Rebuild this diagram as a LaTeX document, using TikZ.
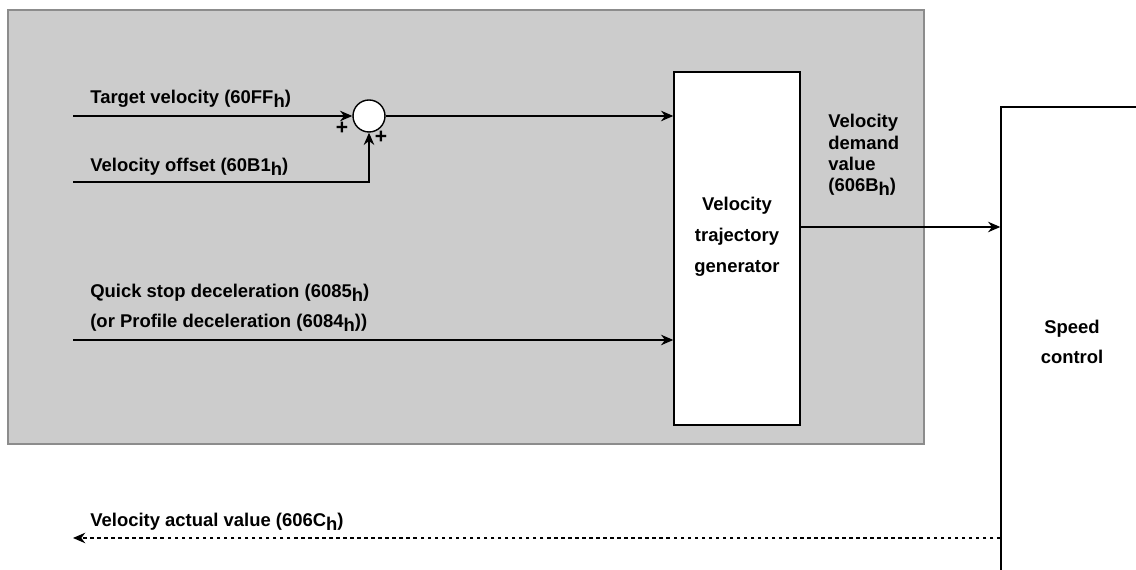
\documentclass[tikz,border=0pt]{standalone}
\usepackage{fontspec}
\setmainfont{Liberation Sans}
\usepackage{tikz}
\usetikzlibrary{arrows.meta,positioning}
\definecolor{panelgray}{HTML}{CCCCCC}
\definecolor{paneledge}{HTML}{8C8C8C}
\newcommand{\hsub}{\raisebox{-0.4ex}{h}}
\tikzset{
    panel-area/.style = {draw=paneledge, fill=panelgray, line width=0.6pt},
    block-box/.style = {draw=black, fill=white, line width=0.8pt, align=center, inner sep=0pt},
    sum-node/.style = {draw=black, fill=white, circle, line width=0.8pt, minimum size=32*0.02cm, inner sep=0pt},
    signal/.style = {draw=black, line width=0.8pt, -{Stealth[length=7pt,width=6pt]}},
    feedback/.style = {signal, dash pattern=on 2pt off 2pt},
    signal-label/.style = {anchor=base west, inner sep=0pt, align=left},
    sign-label/.style = {inner sep=0pt, font=\bfseries\fontsize{12}{12}\selectfont},
}

\begin{document}
\begin{tikzpicture}[x=0.02cm, y=0.02cm, font=\bfseries\fontsize{10.5}{12.2}\selectfont]
\useasboundingbox (0,0) rectangle (1136,570);
\clip (0,0) rectangle (1136,570);
\draw[panel-area] (8,126) rectangle (924,560);
% blocks
\node[block-box, minimum width=126*0.02cm, minimum height=353*0.02cm] (gen) at (737,321.5) {};
\node[align=center, font=\bfseries\fontsize{10.5}{17.6}\selectfont] (gen-text) at (737,333) {Velocity\\trajectory\\generator};
\node[block-box, minimum width=142*0.02cm, minimum height=470*0.02cm] (speed) at (1072,228) {};
\node[align=center, font=\bfseries\fontsize{10.5}{17}\selectfont] (speed-text) at (1072,228) {Speed\\control};
\node[sum-node] (sum) at (369,454) {};
% inputs
\coordinate (in-target) at (73,454);
\coordinate (in-offset) at (73,388);
\coordinate (in-quick) at (73,230);
\coordinate (dem) at (800,343);
\coordinate (out-actual) at (73,32);
\draw[signal] (in-target) -- (sum.west);
\draw[signal] (in-offset) -| (sum.south);
\draw[signal] (sum.east) -- (sum.east -| gen.west);
\draw[signal] (in-quick) -- (in-quick -| gen.west);
\draw[signal] (dem) -- (dem -| speed.west);
\draw[feedback] (out-actual -| speed.west) -- (out-actual);
% labels
\node[signal-label] (lbl-target) at (90,466) {Target velocity (60FF\hsub)};
\node[signal-label] (lbl-offset) at (90,398) {Velocity offset (60B1\hsub)};
\node[signal-label] (lbl-quick) at (90,272) {Quick stop deceleration (6085\hsub)};
\node[signal-label] (lbl-profile) at (90,242) {(or Profile deceleration (6084\hsub))};
\node[signal-label] (lbl-demand) at (828,378) {Velocity\\demand\\value\\(606B\hsub)};
\node[signal-label] (lbl-actual) at (90,43) {Velocity actual value (606C\hsub)};
\node[sign-label] (plus-a) at (342,442) {+};
\node[sign-label] (plus-b) at (381,433) {+};
\end{tikzpicture}
\end{document}
